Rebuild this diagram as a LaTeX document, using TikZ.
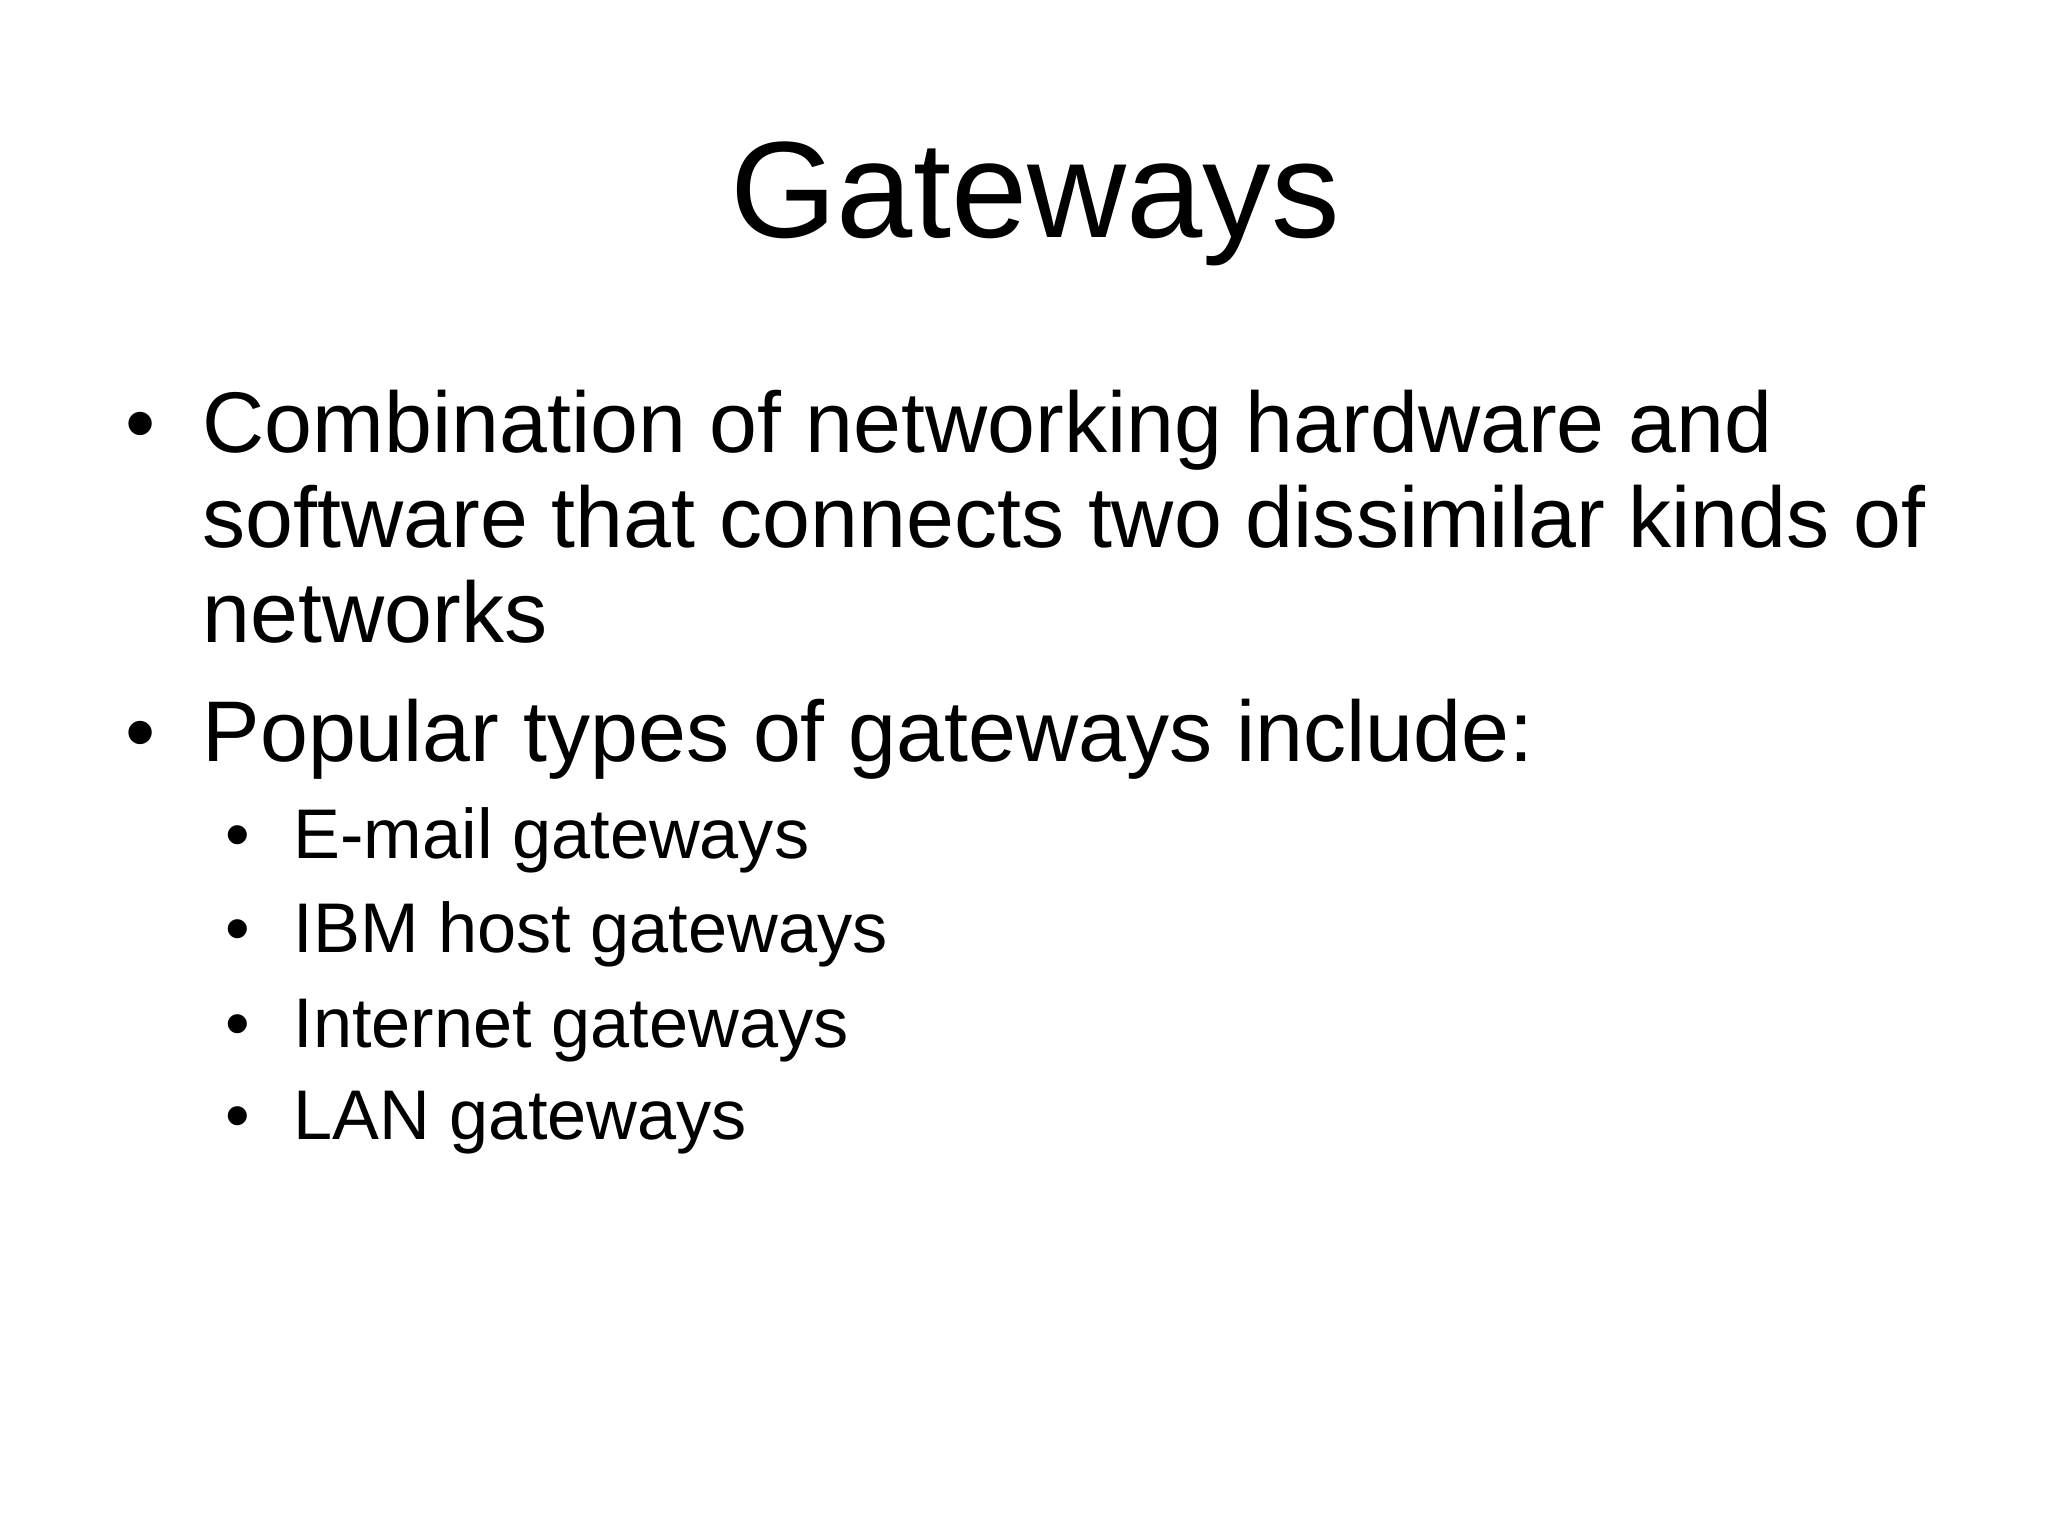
\documentclass[tikz,border=0pt]{standalone}
\usepackage{fontspec}
\setmainfont{Liberation Sans}
\begin{document}
\begin{tikzpicture}[x=1cm,y=1cm,
  big/.style={anchor=base west,inner sep=0pt,font=\fontsize{24.5pt}{29pt}\selectfont},
  small/.style={anchor=base west,inner sep=0pt,font=\fontsize{20pt}{24pt}\selectfont}]
\useasboundingbox[fill=white] (0,0) rectangle (20.48,15.36);
\node[anchor=base,inner sep=0pt,font=\fontsize{39pt}{46pt}\selectfont] (title) at (10.35,12.98) {Gateways};
\node[big] (b1a) at (2.02,10.83) {Combination of networking hardware and};
\node[big] (b1b) at (2.02,9.88) {software that connects two dissimilar kinds of};
\node[big] (b1c) at (2.02,8.93) {networks};
\node[big] (b2) at (2.02,7.74) {Popular types of gateways include:};
\node[big] (d1) at (1.25,10.83) {•};
\node[big] (d2) at (1.25,7.74) {•};
\foreach \n/\t/\y in {s1/E-mail gateways/6.77, s2/IBM host gateways/5.83, s3/Internet gateways/4.88, s4/LAN gateways/3.96}{
  \node[small] (\n) at (2.93,\y) {\t};
  \node[small] (\n d) at (2.25,\y) {•};
}
\end{tikzpicture}
\end{document}
